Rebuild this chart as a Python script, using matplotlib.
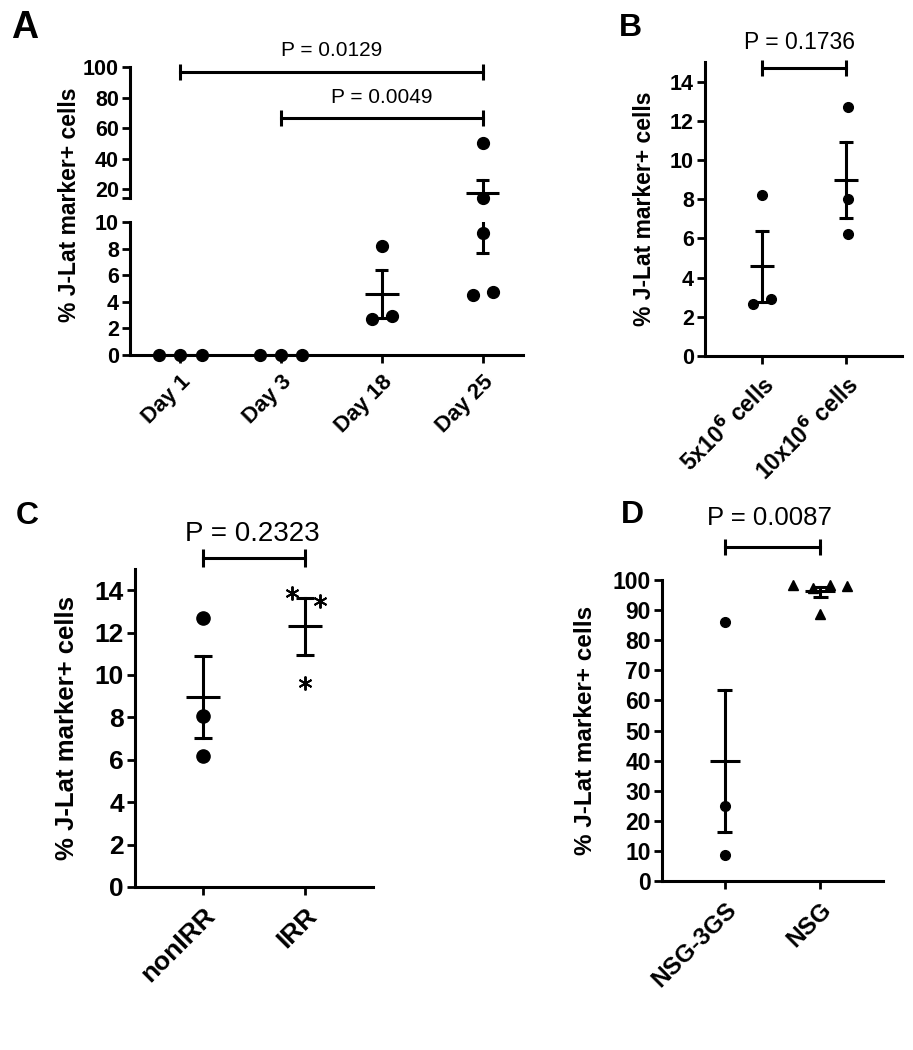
import numpy as np
import matplotlib
matplotlib.use('Agg')
import matplotlib.pyplot as plt

plt.rcParams['font.family'] = ['Liberation Sans', 'DejaVu Sans']

# ---- data ----
# panel A
a_groups = ['Day 1', 'Day 3', 'Day 18', 'Day 25']
a_values = [[0, 0, 0], [0, 0, 0], [8.2, 2.7, 2.9], [50, 14.2, 9.2, 4.5, 4.7]]
a_jitter = [[-0.21, 0, 0.21], [-0.21, 0, 0.21], [0, -0.1, 0.1], [0, 0, 0, -0.1, 0.1]]
a_mean = [0, 0, 4.6, 17.4]
a_err_lo = [0, 0, 2.75, 7.7]
a_err_hi = [0, 0, 6.4, 25.9]
a_pvals = [('P = 0.0129', 0, 3, 96.7), ('P = 0.0049', 1, 3, 66.6)]

# panel B
b_groups = [r'5x10$^{\mathbf{6}}$ cells', r'10x10$^{\mathbf{6}}$ cells']
b_values = [[8.2, 2.65, 2.9], [12.7, 8.0, 6.2]]
b_jitter = [[0, -0.11, 0.11], [0.02, 0.02, 0.02]]
b_mean = [4.6, 9.0]
b_err_lo = [2.75, 7.05]
b_err_hi = [6.4, 10.9]

# panel C
c_groups = ['nonIRR', 'IRR']
c_values = [[12.7, 8.05, 6.2], [13.85, 13.5, 9.6]]
c_jitter = [[0, 0, 0], [-0.13, 0.15, 0]]
c_mean = [8.95, 12.3]
c_err_lo = [7.05, 10.95]
c_err_hi = [10.9, 13.65]

# panel D
d_groups = ['NSG-3GS', 'NSG']
d_values = [[86, 25, 8.5], [98.3, 97.3, 98.3, 98.0, 88.8]]
d_jitter = [[0, 0, 0], [-0.29, -0.08, 0.1, 0.28, 0]]
d_mean = [40, 96.3]
d_err_lo = [16.4, 94.5]
d_err_hi = [63.6, 97.8]

W, H = 913, 1050
fig = plt.figure(figsize=(W / 100, H / 100), dpi=100)


def px_axes(left, top, right, bottom):
    return fig.add_axes([left / W, 1 - bottom / H, (right - left) / W, (bottom - top) / H])


def style(ax, tick_fs, spines=('left', 'bottom')):
    for s in ['left', 'bottom', 'top', 'right']:
        ax.spines[s].set_visible(s in spines)
        ax.spines[s].set_linewidth(2.2)
    ax.tick_params(width=2.0, length=6, labelsize=tick_fs, pad=2)
    for lab in ax.get_yticklabels():
        lab.set_fontweight('bold')


def draw_group(ax, x, vals, jit, mean, lo, hi, mw, cw, marker='o', ms=8, mew=1):
    ax.plot([x - mw, x + mw], [mean, mean], color='black', lw=2.2, solid_capstyle='butt')
    ax.plot([x, x], [lo, hi], color='black', lw=2.2)
    ax.plot([x - cw, x + cw], [lo, lo], color='black', lw=2.2, solid_capstyle='butt')
    ax.plot([x - cw, x + cw], [hi, hi], color='black', lw=2.2, solid_capstyle='butt')
    ax.plot(x + np.array(jit), vals, linestyle='none', marker=marker, ms=ms,
            color='black', mew=mew, clip_on=False, zorder=5)


def bracket(ax, x0, x1, y, ms=12):
    ax.plot([x0, x1], [y, y], color='black', lw=2.2, marker='|', ms=ms, mew=2.2,
            clip_on=False)


def xlabels(ax, labels, fs):
    ax.set_xticks(range(len(labels)))
    ax.set_xticklabels(labels, rotation=45, ha='right', va='top',
                       rotation_mode='anchor', fontsize=fs, fontweight='bold')
    ax.tick_params(axis='x', pad=6)


# ---- panel A (broken axis) ----
axA_lo = px_axes(130, 222, 523, 355)
axA_hi = px_axes(130, 67, 523, 198)
for ax in (axA_lo, axA_hi):
    ax.set_xlim(-0.5, 3.4)
axA_lo.set_ylim(0, 10)
axA_hi.set_ylim(14.1, 100)
axA_lo.set_yticks([0, 2, 4, 6, 8, 10])
axA_hi.set_yticks([14.1, 20, 40, 60, 80, 100])
axA_hi.set_yticklabels(['', '20', '40', '60', '80', '100'])
style(axA_lo, 15.5)
style(axA_hi, 15.5, spines=('left',))
axA_hi.set_xticks([])
xlabels(axA_lo, a_groups, 16)

for i in range(4):
    lo_vals = [v for v in a_values[i] if v <= 10]
    lo_jit = [j for v, j in zip(a_values[i], a_jitter[i]) if v <= 10]
    hi_vals = [v for v in a_values[i] if v > 10]
    hi_jit = [j for v, j in zip(a_values[i], a_jitter[i]) if v > 10]
    for ax, vv, jj in ((axA_lo, lo_vals, lo_jit), (axA_hi, hi_vals, hi_jit)):
        draw_group(ax, i, vv, jj, a_mean[i], a_err_lo[i], a_err_hi[i], 0.165, 0.065, ms=8.5)

axA_lo.text(-0.153, 1.13, '% J-Lat marker+ cells', transform=axA_lo.transAxes,
            rotation=90, ha='center', va='center', fontsize=16.5, fontweight='bold')
for label, g0, g1, y in a_pvals:
    bracket(axA_hi, g0, g1, y, ms=11)
axA_hi.text(1.5, 110.5, a_pvals[0][0], ha='center', va='center', fontsize=15)
axA_hi.text(2.0, 80.3, a_pvals[1][0], ha='center', va='center', fontsize=15)

# ---- panel B ----
axB = px_axes(705, 62, 902, 356)
axB.set_xlim(-0.68, 1.67)
axB.set_ylim(0, 15)
axB.set_yticks(range(0, 15, 2))
style(axB, 15.5)
xlabels(axB, b_groups, 16.5)
for i in range(2):
    draw_group(axB, i, b_values[i], b_jitter[i], b_mean[i], b_err_lo[i], b_err_hi[i],
               0.14, 0.085, ms=7)
axB.set_ylabel('% J-Lat marker+ cells', fontsize=16.5, fontweight='bold', labelpad=10)
bracket(axB, 0, 1, 14.7, ms=12)
axB.text(0.45, 16.0, 'P = 0.1736', ha='center', va='center', fontsize=16.5)

# ---- panel C ----
axC = px_axes(135, 569, 373, 887)
axC.set_xlim(-0.67, 1.67)
axC.set_ylim(0, 15)
axC.set_yticks(range(0, 15, 2))
style(axC, 19)
xlabels(axC, c_groups, 19)
draw_group(axC, 0, c_values[0], c_jitter[0], c_mean[0], c_err_lo[0], c_err_hi[0],
           0.165, 0.09, ms=9.5)
draw_group(axC, 1, c_values[1], c_jitter[1], c_mean[1], c_err_lo[1], c_err_hi[1],
           0.165, 0.09, marker=(6, 2, 0), ms=10, mew=1.4)
axC.set_ylabel('% J-Lat marker+ cells', fontsize=18.5, fontweight='bold', labelpad=11)
bracket(axC, 0, 1, 15.5, ms=13)
axC.text(0.48, 16.65, 'P = 0.2323', ha='center', va='center', fontsize=20)

# ---- panel D ----
axD = px_axes(662, 580, 883, 881)
axD.set_xlim(-0.66, 1.66)
axD.set_ylim(0, 100)
axD.set_yticks(range(0, 101, 10))
style(axD, 16.5)
xlabels(axD, d_groups, 17.5)
draw_group(axD, 0, d_values[0], d_jitter[0], d_mean[0], d_err_lo[0], d_err_hi[0],
           0.16, 0.08, ms=7)
draw_group(axD, 1, d_values[1], d_jitter[1], d_mean[1], d_err_lo[1], d_err_hi[1],
           0.16, 0.08, marker='^', ms=6.5)
axD.set_ylabel('% J-Lat marker+ cells', fontsize=17.5, fontweight='bold', labelpad=11)
bracket(axD, 0, 1, 111, ms=12)
axD.text(0.47, 120.5, 'P = 0.0087', ha='center', va='center', fontsize=18.5)

# panel letters
for lab, x, y, fs in [('A', 25, 28, 27), ('B', 630, 28, 23), ('C', 27, 516, 23), ('D', 632, 515, 23)]:
    fig.text(x / W, 1 - y / H, lab, ha='center', va='center', fontsize=fs, fontweight='bold')

plt.savefig('out.png', dpi=100)
